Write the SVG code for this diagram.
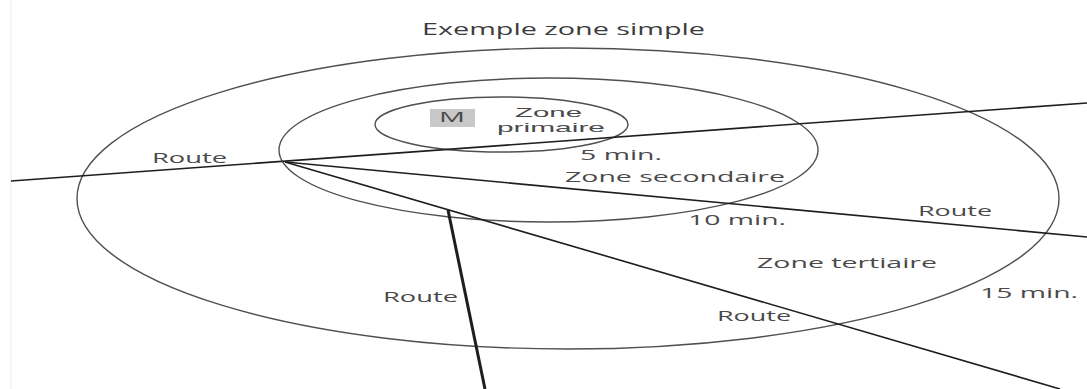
<svg xmlns="http://www.w3.org/2000/svg" width="1087" height="389" viewBox="0 0 1087 389">
  <style>
    .zone { fill: none; stroke: #505050; stroke-width: 1.4; }
    .road { fill: none; stroke: #1e1e1e; stroke-width: 1.6; stroke-linecap: butt; }
    .road-thick { fill: none; stroke: #1e1e1e; stroke-width: 3; }
    .lbl { font-family: "Open Sans", "Liberation Sans", sans-serif; font-size: 14px; fill: #4a4a4a; }
    .tight { font-family: "Liberation Sans", "Open Sans", sans-serif; font-size: 13px; }
    .title { font-family: "Open Sans", "Liberation Sans", sans-serif; font-size: 16px; fill: #3c3c3c; }
  </style>
  <rect x="0" y="0" width="1087" height="389" fill="#ffffff"/>
  <line x1="11" y1="0" x2="11" y2="389" stroke="#ececec" stroke-width="1"/>

  <g id="title">
    <text class="title" x="422" y="35" textLength="283" lengthAdjust="spacingAndGlyphs">Exemple zone simple</text>
  </g>

  <g id="zone-tertiaire">
    <ellipse class="zone" cx="568" cy="198.5" rx="491" ry="150.5"/>
    <text class="lbl" x="757" y="268" textLength="180" lengthAdjust="spacingAndGlyphs">Zone tertiaire</text>
    <text class="lbl" x="980" y="298" textLength="98" lengthAdjust="spacingAndGlyphs">15 min.</text>
  </g>

  <g id="zone-secondaire">
    <ellipse class="zone" cx="548.5" cy="150" rx="269.5" ry="72"/>
    <text class="lbl" x="565" y="182" textLength="220" lengthAdjust="spacingAndGlyphs">Zone secondaire</text>
    <text class="lbl" x="688" y="225" textLength="98" lengthAdjust="spacingAndGlyphs">10 min.</text>
  </g>

  <g id="zone-primaire">
    <ellipse class="zone" cx="501.5" cy="124.5" rx="126.5" ry="27.5"/>
    <text class="lbl tight" x="515" y="116.5" textLength="67" lengthAdjust="spacingAndGlyphs">Zone</text>
    <text class="lbl tight" x="497" y="131.5" textLength="108" lengthAdjust="spacingAndGlyphs">primaire</text>
    <text class="lbl" x="580" y="160" textLength="82" lengthAdjust="spacingAndGlyphs">5 min.</text>
  </g>

  <g id="magasin">
    <rect x="430" y="109" width="45" height="18" fill="#c8c8c8"/>
    <text class="lbl" x="439" y="122" font-size="13" textLength="26" lengthAdjust="spacingAndGlyphs">M</text>
  </g>

  <g id="connectors">
    <line class="road" x1="11" y1="181" x2="1087" y2="103"/>
    <line class="road" x1="285" y1="162" x2="1087" y2="237"/>
    <line class="road" x1="285" y1="162" x2="1060" y2="389"/>
    <line class="road-thick" x1="448" y1="210" x2="485" y2="389"/>
  </g>

  <g id="route-labels">
    <text class="lbl" x="152" y="163" textLength="75" lengthAdjust="spacingAndGlyphs">Route</text>
    <text class="lbl" x="918" y="216" textLength="74" lengthAdjust="spacingAndGlyphs">Route</text>
    <text class="lbl" x="383" y="302" textLength="75" lengthAdjust="spacingAndGlyphs">Route</text>
    <text class="lbl" x="717" y="321" textLength="74" lengthAdjust="spacingAndGlyphs">Route</text>
  </g>
</svg>
